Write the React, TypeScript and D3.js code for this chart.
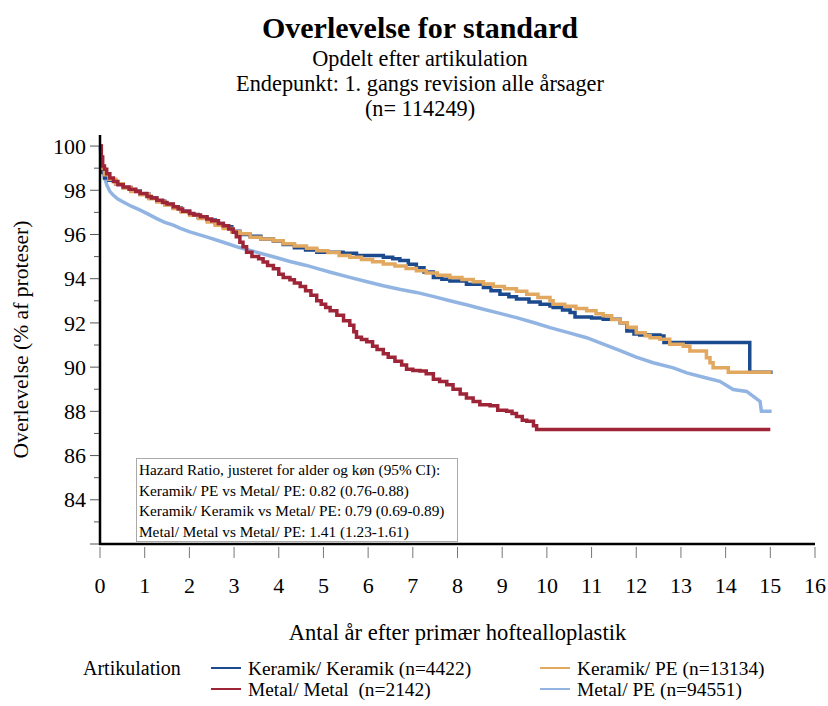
import React from "react";
import * as d3 from "d3";

// Kaplan-Meier survival (%) by years since primary hip arthroplasty
const keramikKeramik: [number, number][] = [
  [0, 100], [0.02, 99.3], [0.05, 98.8], [0.1, 98.55], [0.2, 98.45], [0.35, 98.3], [0.52, 98.12],
  [0.7, 97.97], [0.9, 97.82], [1.1, 97.65], [1.27, 97.5], [1.45, 97.36], [1.64, 97.2], [1.82, 97.05],
  [2.01, 96.9], [2.2, 96.78], [2.4, 96.65], [2.58, 96.5], [2.76, 96.35], [2.95, 96.15], [3.13, 96.0],
  [3.36, 95.92], [3.6, 95.8], [3.88, 95.7], [4.1, 95.55], [4.35, 95.4], [4.6, 95.3], [4.85, 95.2],
  [5.44, 95.15], [5.74, 95.05], [6.34, 94.97], [6.55, 94.9], [6.71, 94.82], [6.9, 94.65], [7.08, 94.5],
  [7.25, 94.3], [7.46, 94.06], [7.65, 93.98], [7.83, 93.9], [8.2, 93.75], [8.58, 93.6], [8.75, 93.45],
  [8.95, 93.3], [9.15, 93.18], [9.32, 93.08], [9.6, 92.95], [9.85, 92.85], [10.07, 92.77], [10.14, 92.7],
  [10.35, 92.58], [10.52, 92.47], [10.63, 92.27], [11.0, 92.22], [11.26, 92.17], [11.64, 92.01],
  [11.79, 91.64], [11.95, 91.5], [12.08, 91.45], [12.53, 91.41], [12.62, 91.11], [14.54, 89.77], [15.05, 89.77],
];

const keramikPE: [number, number][] = [
  [0, 100], [0.02, 99.5], [0.05, 99.0], [0.1, 98.7], [0.2, 98.5], [0.35, 98.3], [0.52, 98.1],
  [0.7, 97.95], [0.9, 97.8], [1.1, 97.62], [1.27, 97.47], [1.45, 97.33], [1.64, 97.18], [1.82, 97.02],
  [2.01, 96.87], [2.2, 96.72], [2.4, 96.57], [2.58, 96.42], [2.76, 96.27], [2.95, 96.12], [3.13, 96.03],
  [3.36, 95.88], [3.6, 95.8], [3.88, 95.72], [4.1, 95.58], [4.35, 95.48], [4.62, 95.38], [4.85, 95.27],
  [5.1, 95.18], [5.35, 95.05], [5.59, 94.97], [5.85, 94.87], [6.1, 94.77], [6.34, 94.67], [6.6, 94.57],
  [6.85, 94.46], [7.08, 94.36], [7.3, 94.26], [7.55, 94.16], [7.83, 94.06], [8.1, 93.96], [8.35, 93.86],
  [8.58, 93.76], [8.8, 93.65], [9.05, 93.55], [9.32, 93.43], [9.55, 93.3], [9.8, 93.15], [10.07, 93.0],
  [10.14, 92.85], [10.4, 92.75], [10.65, 92.65], [10.89, 92.55], [11.1, 92.42], [11.26, 92.32],
  [11.45, 92.15], [11.64, 92.01], [11.8, 91.8], [12.0, 91.56], [12.2, 91.42], [12.31, 91.33],
  [12.53, 91.26], [12.75, 91.03], [13.05, 90.95], [13.2, 90.73], [13.57, 90.42], [13.65, 90.2],
  [13.72, 89.97], [14.06, 89.77], [15.03, 89.77],
];

const metalMetal: [number, number][] = [
  [0, 100], [0.03, 99.5], [0.06, 99.1], [0.1, 98.95], [0.15, 98.75], [0.22, 98.55], [0.3, 98.4],
  [0.4, 98.25], [0.52, 98.15], [0.65, 98.05], [0.8, 97.95], [0.9, 97.85], [1.05, 97.72], [1.15, 97.65],
  [1.27, 97.55], [1.4, 97.45], [1.5, 97.38], [1.64, 97.25], [1.75, 97.15], [1.85, 97.05], [2.0, 96.95],
  [2.1, 96.88], [2.25, 96.8], [2.39, 96.7], [2.5, 96.62], [2.65, 96.5], [2.76, 96.4], [2.88, 96.25],
  [2.98, 96.1], [3.05, 95.9], [3.13, 95.65], [3.2, 95.45], [3.28, 95.2], [3.4, 95.0], [3.55, 94.9],
  [3.65, 94.75], [3.75, 94.6], [3.88, 94.45], [4.0, 94.2], [4.1, 94.05], [4.25, 93.95], [4.35, 93.8],
  [4.48, 93.65], [4.6, 93.45], [4.72, 93.25], [4.85, 93.0], [4.95, 92.85], [5.05, 92.7], [5.15, 92.55],
  [5.3, 92.35], [5.45, 92.1], [5.59, 91.9], [5.68, 91.6], [5.74, 91.35], [5.85, 91.25], [5.97, 91.15],
  [6.1, 90.95], [6.2, 90.8], [6.34, 90.6], [6.45, 90.45], [6.6, 90.27], [6.75, 90.1], [6.86, 89.9],
  [7.0, 89.85], [7.16, 89.82], [7.3, 89.7], [7.46, 89.45], [7.6, 89.35], [7.76, 89.2], [7.9, 89.0],
  [8.06, 88.78], [8.2, 88.6], [8.35, 88.45], [8.5, 88.3], [8.73, 88.25], [8.9, 88.05], [9.1, 88.0],
  [9.22, 87.9], [9.32, 87.77], [9.45, 87.6], [9.55, 87.55], [9.7, 87.35], [9.77, 87.18], [15.0, 87.18],
];

const metalPE: [number, number][] = [
  [0, 100], [0.02, 99.6], [0.05, 99.2], [0.07, 98.95], [0.1, 98.6], [0.15, 98.25], [0.22, 97.95],
  [0.3, 97.77], [0.4, 97.6], [0.52, 97.47], [0.7, 97.28], [0.9, 97.1], [1.1, 96.9], [1.27, 96.72],
  [1.45, 96.55], [1.64, 96.42], [1.8, 96.28], [2.01, 96.12], [2.4, 95.88], [2.76, 95.65], [3.1, 95.42],
  [3.5, 95.2], [3.9, 94.98], [4.25, 94.78], [4.62, 94.6], [4.85, 94.47], [5.2, 94.27], [5.59, 94.06],
  [6.0, 93.85], [6.34, 93.68], [6.7, 93.52], [7.08, 93.38], [7.45, 93.2], [7.83, 93.0], [8.2, 92.82],
  [8.58, 92.62], [8.95, 92.43], [9.32, 92.24], [9.7, 92.02], [10.07, 91.79], [10.5, 91.55],
  [10.89, 91.33], [11.25, 91.05], [11.64, 90.75], [12.0, 90.45], [12.38, 90.2], [12.83, 89.97],
  [13.13, 89.74], [13.57, 89.51], [13.87, 89.36], [14.17, 88.99], [14.47, 88.9], [14.62, 88.68],
  [14.77, 88.45], [14.8, 88.0], [15.03, 88.0],
];

const xTicks = d3.range(0, 17);
const yTicks = d3.range(82, 101);
const yLabelTicks = [84, 86, 88, 90, 92, 94, 96, 98, 100];

const titleLines = ["Opdelt efter artikulation", "Endepunkt: 1. gangs revision alle årsager", "(n= 114249)"];
const hazardLines = [
  "Hazard Ratio, justeret for alder og køn (95% CI):",
  "Keramik/ PE vs Metal/ PE: 0.82 (0.76-0.88)",
  "Keramik/ Keramik vs Metal/ PE: 0.79 (0.69-0.89)",
  "Metal/ Metal vs Metal/ PE: 1.41 (1.23-1.61)",
];

const seriesNames = [
  "Keramik/ Keramik (n=4422)",
  "Keramik/ PE (n=13134)",
  "Metal/ Metal  (n=2142)",
  "Metal/ PE (n=94551)",
];
const seriesColors = ["#1c4a8e", "#e2a860", "#9e2438", "#91b4e2"];

const FONT = "'Liberation Serif', 'Times New Roman', serif";

export default function App() {
  const W = 828;
  const H = 706;
  const x = d3.scaleLinear().domain([0, 16]).range([100, 815]);
  const y = d3.scaleLinear().domain([82, 100.5]).range([544, 135]);

  const stepLine = d3
    .line<[number, number]>()
    .x((d) => x(d[0]))
    .y((d) => y(d[1]))
    .curve(d3.curveStepAfter);
  const smoothLine = d3
    .line<[number, number]>()
    .x((d) => x(d[0]))
    .y((d) => y(d[1]))
    .curve(d3.curveLinear);

  // drawing order: Metal/PE underneath, Metal/Metal on top
  const layers = [
    { d: smoothLine(metalPE), color: seriesColors[3] },
    { d: stepLine(keramikKeramik), color: seriesColors[0] },
    { d: stepLine(keramikPE), color: seriesColors[1] },
    { d: stepLine(metalMetal), color: seriesColors[2] },
  ];

  const legendItems = [
    { name: seriesNames[0], color: seriesColors[0], lx: 211, ly: 668 },
    { name: seriesNames[1], color: seriesColors[1], lx: 540, ly: 668 },
    { name: seriesNames[2], color: seriesColors[2], lx: 211, ly: 689 },
    { name: seriesNames[3], color: seriesColors[3], lx: 540, ly: 689 },
  ];

  return (
    <svg
      width={W}
      height={H}
      viewBox={`0 0 ${W} ${H}`}
      style={{ position: "absolute", left: 0, top: 0, background: "#fff", fontFamily: FONT }}
    >
      <rect width={W} height={H} fill="#fff" />
      {/* titles */}
      <text x={420} y={38} textAnchor="middle" fontSize={30} fontWeight="bold" fill="#000">
        Overlevelse for standard
      </text>
      {titleLines.map((t, i) => (
        <text key={t} x={420} y={66 + i * 25} textAnchor="middle" fontSize={22.3} fill="#000">
          {t}
        </text>
      ))}

      {/* curves */}
      <g fill="none" strokeWidth={3.5} strokeLinejoin="miter">
        {layers.map((l, i) => (
          <path key={i} d={l.d || ""} stroke={l.color} />
        ))}
      </g>

      {/* hazard ratio box */}
      <rect x={136.5} y={458.5} width={321} height={83} fill="#fff" stroke="#aaa" strokeWidth={1} />
      {hazardLines.map((t, i) => (
        <text key={t} x={139} y={475 + i * 20.5} fontSize={15.3} fill="#000">
          {t}
        </text>
      ))}

      {/* y axis */}
      <line x1={100} x2={100} y1={y(100.5)} y2={y(82) + 1} stroke="#000" strokeWidth={2.5} />
      {yTicks.map((t) => (
        <line key={t} x1={t % 2 === 0 ? 90 : 94} x2={99} y1={y(t)} y2={y(t)} stroke="#555" strokeWidth={1} />
      ))}
      {yLabelTicks.map((t) => (
        <text key={t} x={86} y={y(t)} dy="0.35em" textAnchor="end" fontSize={22} fill="#000">
          {t}
        </text>
      ))}
      <text
        transform={`translate(28, ${(y(100.5) + y(82)) / 2}) rotate(-90)`}
        textAnchor="middle"
        fontSize={21.6}
        fill="#000"
      >
        Overlevelse (% af proteser)
      </text>

      {/* x axis */}
      <line x1={99} x2={815} y1={y(82)} y2={y(82)} stroke="#000" strokeWidth={2.5} />
      {xTicks.map((t) => (
        <line key={t} x1={x(t)} x2={x(t)} y1={y(82) + 3} y2={y(82) + 14} stroke="#777" strokeWidth={1} />
      ))}
      {xTicks.map((t) => (
        <text key={t} x={x(t)} y={593} textAnchor="middle" fontSize={22} fill="#000">
          {t}
        </text>
      ))}
      <text x={(x(0) + x(16)) / 2} y={640} textAnchor="middle" fontSize={22.6} fill="#000">
        Antal år efter primær hoftealloplastik
      </text>

      {/* legend */}
      <text x={83} y={675} fontSize={20} fill="#000">
        Artikulation
      </text>
      {legendItems.map((it) => (
        <g key={it.name}>
          <line x1={it.lx} x2={it.lx + 30} y1={it.ly} y2={it.ly} stroke={it.color} strokeWidth={2} />
          <text
            x={it.lx + 37}
            y={it.ly}
            dy="0.35em"
            fontSize={19.4}
            fill="#000"
            style={{ whiteSpace: "pre" }}
          >
            {it.name}
          </text>
        </g>
      ))}
    </svg>
  );
}
